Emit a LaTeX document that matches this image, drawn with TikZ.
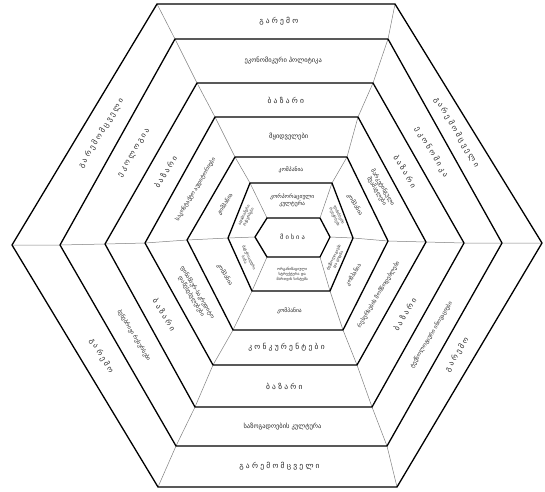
\documentclass[tikz,border=0pt]{standalone}
\usepackage{fontspec}
\setmainfont{DejaVu Sans}
\newfontfamily\geospaced[LetterSpace=30]{DejaVu Sans}
\usetikzlibrary{calc}

\begin{document}
\begin{tikzpicture}[
  x=1pt, y=-1pt,
  hexline/.style={line width=1.3pt, line join=round},
  spoke/.style={draw=gray, line width=0.5pt},
  lbl/.style={inner sep=0pt, align=center, text=black!85},
  wide/.style={lbl, font=\geospaced\fontsize{7.5}{9}\selectfont},
  mid/.style={lbl, font=\fontsize{6.5}{7.5}\selectfont},
  sml/.style={lbl, font=\fontsize{5.6}{7}\selectfont},
  tiny/.style={lbl, font=\fontsize{3.8}{5}\selectfont}
]
\useasboundingbox (0,0) rectangle (545,491);

% hexagon corners, outer to inner
\coordinate (tl1) at (157,4);   \coordinate (tr1) at (395,4);   \coordinate (r1) at (542,243);
\coordinate (br1) at (397,487); \coordinate (bl1) at (158,487); \coordinate (l1) at (12,245);
\coordinate (tl2) at (175,39);  \coordinate (tr2) at (388,39);  \coordinate (r2) at (502,243);
\coordinate (br2) at (387,446); \coordinate (bl2) at (176,446); \coordinate (l2) at (60,245);
\coordinate (tl3) at (197,83);  \coordinate (tr3) at (373,83);  \coordinate (r3) at (464,243);
\coordinate (br3) at (372,407); \coordinate (bl3) at (195,407); \coordinate (l3) at (105,244);
\coordinate (tl4) at (215,117); \coordinate (tr4) at (358,117); \coordinate (r4) at (426,242);
\coordinate (br4) at (357,365); \coordinate (bl4) at (213,365); \coordinate (l4) at (145,243);
\coordinate (tl5) at (235,157); \coordinate (tr5) at (347,157); \coordinate (r5) at (388,241);
\coordinate (br5) at (343,330); \coordinate (bl5) at (233,330); \coordinate (l5) at (187,240);
\coordinate (tl6) at (250,183); \coordinate (tr6) at (332,183); \coordinate (r6) at (353,238);
\coordinate (br6) at (330,291); \coordinate (bl6) at (252,291); \coordinate (l6) at (228,238);
\coordinate (tl7) at (267,218); \coordinate (tr7) at (320,218); \coordinate (r7) at (330,237);
\coordinate (br7) at (320,257); \coordinate (bl7) at (267,257); \coordinate (l7) at (255,237);

% spokes
\draw[spoke] (tl1) -- (tl2) -- (tl3) -- (tl4) -- (tl5) -- (tl6) -- (tl7);
\draw[spoke] (tr1) -- (tr2) -- (tr3) -- (tr4) -- (tr5) -- (tr6) -- (tr7);
\draw[spoke] (r1) -- (r2) -- (r3) -- (r4) -- (r5) -- (r6) -- (r7);
\draw[spoke] (br1) -- (br2) -- (br3) -- (br4) -- (br5) -- (br6) -- (br7);
\draw[spoke] (bl1) -- (bl2) -- (bl3) -- (bl4) -- (bl5) -- (bl6) -- (bl7);
\draw[spoke] (l1) -- (l2) -- (l3) -- (l4) -- (l5) -- (l6) -- (l7);

% hexagons
\draw[hexline] (tl1) -- (tr1) -- (r1) -- (br1) -- (bl1) -- (l1) -- cycle;
\draw[hexline] (tl2) -- (tr2) -- (r2) -- (br2) -- (bl2) -- (l2) -- cycle;
\draw[hexline] (tl3) -- (tr3) -- (r3) -- (br3) -- (bl3) -- (l3) -- cycle;
\draw[hexline] (tl4) -- (tr4) -- (r4) -- (br4) -- (bl4) -- (l4) -- cycle;
\draw[hexline] (tl5) -- (tr5) -- (r5) -- (br5) -- (bl5) -- (l5) -- cycle;
\draw[hexline] (tl6) -- (tr6) -- (r6) -- (br6) -- (bl6) -- (l6) -- cycle;
\draw[hexline] (tl7) -- (tr7) -- (r7) -- (br7) -- (bl7) -- (l7) -- cycle;

% ring 1
\node[wide] (env-t) at (barycentric cs:tl1=1,tr1=1,tr2=1,tl2=1) {გარემო};
\node[wide, rotate=-59] (env-ur) at (barycentric cs:tr1=1,r1=1,r2=1,tr2=1) {გარემომცველი};
\node[wide, rotate=59] (env-lr) at (barycentric cs:r1=1,br1=1,br2=1,r2=1) {გარემო};
\node[wide] (env-b) at (barycentric cs:br1=1,bl1=1,bl2=1,br2=1) {გარემომცველი};
\node[wide, rotate=-59] (env-ll) at (barycentric cs:bl1=1,l1=1,l2=1,bl2=1) {გარემო};
\node[wide, rotate=59] (env-ul) at (barycentric cs:l1=1,tl1=1,tl2=1,l2=1) {გარემომცველი};

% ring 2
\node[mid] (eco-t) at (barycentric cs:tl2=1,tr2=1,tr3=1,tl3=1) {ეკონომიკური პოლიტიკა};
\node[wide, rotate=-59] (eco-ur) at (barycentric cs:tr2=1,r2=1,r3=1,tr3=1) {ეკონომიკა};
\node[sml, rotate=59] (eco-lr) at (barycentric cs:r2=1,br2=1,br3=1,r3=1) {ტექნოლოგიური ინოვაციები};
\node[mid] (eco-b) at (barycentric cs:br2=1,bl2=1,bl3=1,br3=1) {საზოგადოების კულტურა};
\node[sml, rotate=-59] (eco-ll) at (barycentric cs:bl2=1,l2=1,l3=1,bl3=1) {ბუნებრივი რესურსები};
\node[wide, rotate=59] (eco-ul) at (barycentric cs:l2=1,tl2=1,tl3=1,l3=1) {ეკოლოგია};

% ring 3
\node[wide] (mkt-t) at (barycentric cs:tl3=1,tr3=1,tr4=1,tl4=1) {ბაზარი};
\node[wide, rotate=-59] (mkt-ur) at (barycentric cs:tr3=1,r3=1,r4=1,tr4=1) {ბაზარი};
\node[wide, rotate=59] (mkt-lr) at (barycentric cs:r3=1,br3=1,br4=1,r4=1) {ბაზარი};
\node[wide] (mkt-b) at (barycentric cs:br3=1,bl3=1,bl4=1,br4=1) {ბაზარი};
\node[wide, rotate=-59] (mkt-ll) at (barycentric cs:bl3=1,l3=1,l4=1,bl4=1) {ბაზარი};
\node[wide, rotate=59] (mkt-ul) at (barycentric cs:l3=1,tl3=1,tl4=1,l4=1) {ბაზარი};

% ring 4
\node[mid] (act-t) at (barycentric cs:tl4=1,tr4=1,tr5=1,tl5=1) {მყიდველები};
\node[sml, rotate=-59] (act-ur) at (barycentric cs:tr4=1,r4=1,r5=1,tr5=1) {მარკეტინგული\\შუამავლები};
\node[sml, rotate=59] (act-lr) at (barycentric cs:r4=1,br4=1,br5=1,r5=1) {რესურსების მომწოდებლები};
\node[wide] (act-b) at (barycentric cs:br4=1,bl4=1,bl5=1,br5=1) {კონკურენტები};
\node[sml, rotate=-59] (act-ll) at (barycentric cs:bl4=1,l4=1,l5=1,bl5=1) {ფინანსურ-საკრედიტო\\დაწესებულებები};
\node[sml, rotate=59] (act-ul) at (barycentric cs:l4=1,tl4=1,tl5=1,l5=1) {საკონტაქტო აუდიტორიები};

% ring 5
\node[sml] (co-t) at (barycentric cs:tl5=1,tr5=1,tr6=1,tl6=1) {კომპანია};
\node[sml, rotate=-59] (co-ur) at (barycentric cs:tr5=1,r5=1,r6=1,tr6=1) {კომპანია};
\node[sml, rotate=59] (co-lr) at (barycentric cs:r5=1,br5=1,br6=1,r6=1) {კომპანია};
\node[sml] (co-b) at (barycentric cs:br5=1,bl5=1,bl6=1,br6=1) {კომპანია};
\node[sml, rotate=-59] (co-ll) at (barycentric cs:bl5=1,l5=1,l6=1,bl6=1) {კომპანია};
\node[sml, rotate=59] (co-ul) at (barycentric cs:l5=1,tl5=1,tl6=1,l6=1) {კომპანია};

% ring 6
\node[sml] (in-t) at (barycentric cs:tl6=1,tr6=1,tr7=1,tl7=1) {კორპორაციული\\კულტურა};
\node[tiny, rotate=-64] (in-ur) at (barycentric cs:tr6=2,r6=2,r7=1,tr7=1) {ფინანსური\\რესურსები};
\node[tiny, rotate=64] (in-lr) at (barycentric cs:r6=2,br6=2,br7=1,r7=1) {ტექნოლოგიები\\და ცოდნა};
\node[tiny] (in-b) at (barycentric cs:br6=1,bl6=1,bl7=1,br7=1) {ორგანიზაციული\\სტრუქტურა და\\მართვის სისტემა};
\node[tiny, rotate=-64] (in-ll) at (barycentric cs:bl6=2,l6=2,l7=1,bl7=1) {მატერიალური\\ბაზა};
\node[tiny, rotate=64] (in-ul) at (barycentric cs:l6=2,tl6=2,tl7=1,l7=1) {ადამიანური\\რესურსები};

% centre
\node[wide, font=\geospaced\fontsize{6.5}{8}\selectfont] (mission) at (barycentric cs:l7=1,r7=1) {მისია};

\end{tikzpicture}
\end{document}
